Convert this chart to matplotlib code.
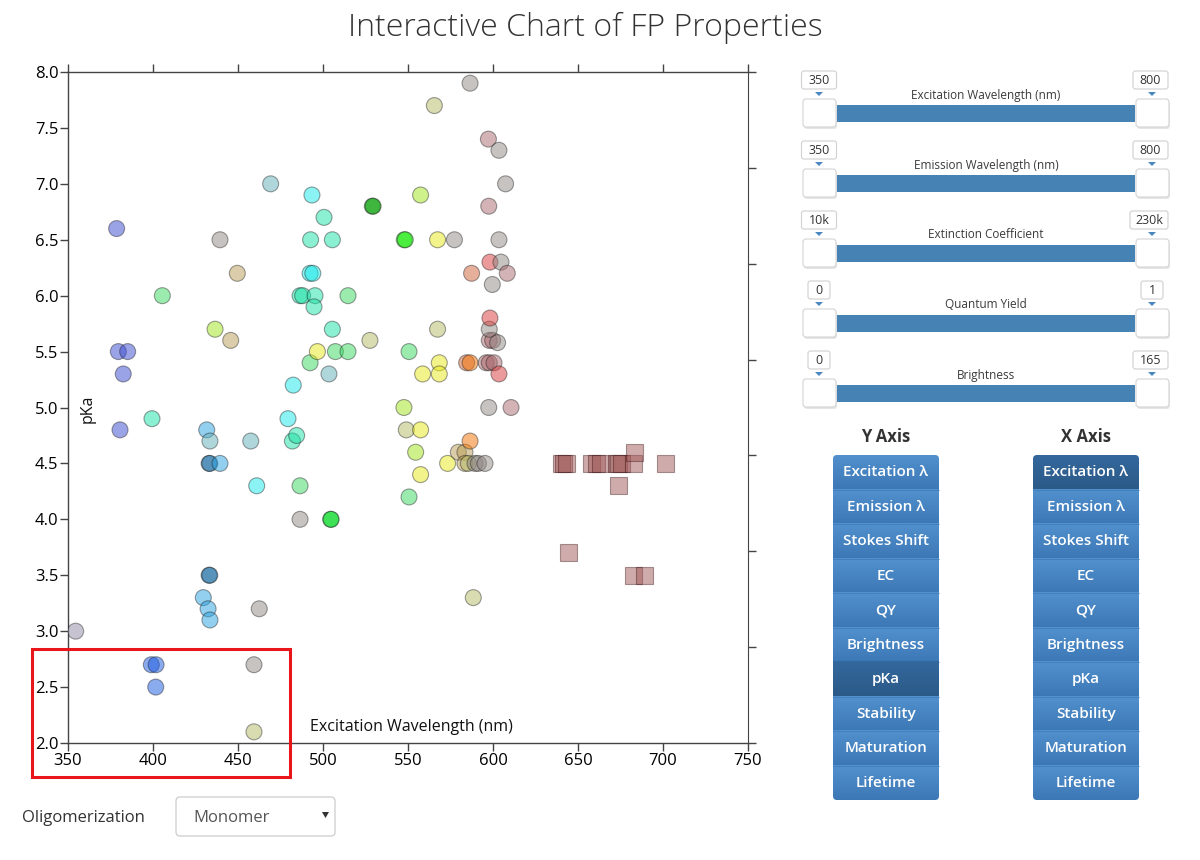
import numpy as np
import matplotlib
matplotlib.use("Agg")
import matplotlib.pyplot as plt
from matplotlib.patches import Rectangle, FancyBboxPatch, Polygon
from matplotlib.colors import to_rgb

plt.rcParams['font.family'] = ['Open Sans', 'DejaVu Sans']

# ---------------- data ----------------
title = "Interactive Chart of FP Properties"
x_label = "Excitation Wavelength (nm)"
y_label = "pKa"

circle_excitation = [
    354.5, 378.6, 379.6, 385.1, 382.5, 380.6, 399.4, 405.5, 399.0, 401.8,
    401.6, 429.6, 432.4, 433.5, 433.0, 433.4, 431.6, 433.5, 433.0, 433.4,
    439.4, 457.5, 461.0, 459.4, 459.4, 462.5, 439.4, 449.6, 436.5, 445.7,
    469.2, 479.4, 482.0, 484.5, 482.5, 486.5, 486.5, 504.5, 504.8, 492.4,
    496.7, 503.5, 507.3, 514.7, 505.5, 527.6, 486.5, 488.0, 495.3, 494.7,
    514.7, 492.4, 494.0, 492.7, 505.5, 493.5, 500.6, 529.0, 529.5, 547.8,
    548.4, 547.6, 549.0, 554.5, 550.6, 550.6, 557.4, 557.4, 557.4, 558.6,
    565.5, 567.4, 567.4, 568.4, 568.4, 573.3, 577.3, 579.6, 583.5, 586.5,
    583.5, 585.5, 589.4, 591.4, 595.3, 584.5, 586.5, 586.5, 587.4, 588.4,
    596.0, 597.8, 600.6, 597.8, 599.8, 602.7, 597.8, 598.2, 603.5, 597.5,
    610.6, 599.6, 598.2, 604.7, 608.4, 603.5, 597.5, 607.4, 597.3, 603.5,
]
circle_pka = [
    3.0, 6.6, 5.5, 5.5, 5.3, 4.8, 4.9, 6.0, 2.7, 2.7,
    2.5, 3.3, 3.2, 3.1, 3.5, 3.5, 4.8, 4.7, 4.5, 4.5,
    4.5, 4.7, 4.3, 2.7, 2.1, 3.2, 6.5, 6.2, 5.7, 5.6,
    7.0, 4.9, 4.7, 4.75, 5.2, 4.3, 4.0, 4.0, 4.0, 5.4,
    5.5, 5.3, 5.5, 5.5, 5.7, 5.6, 6.0, 6.0, 6.0, 5.9,
    6.0, 6.2, 6.2, 6.5, 6.5, 6.9, 6.7, 6.8, 6.8, 6.5,
    6.5, 5.0, 4.8, 4.6, 4.2, 5.5, 4.8, 4.4, 6.9, 5.3,
    7.7, 6.5, 5.7, 5.4, 5.3, 4.5, 6.5, 4.6, 4.6, 4.7,
    4.5, 4.5, 4.5, 4.5, 4.5, 5.4, 5.4, 7.9, 6.2, 3.3,
    5.4, 5.4, 5.4, 5.6, 5.6, 5.58, 5.7, 5.8, 5.3, 5.0,
    5.0, 6.1, 6.3, 6.3, 6.2, 6.5, 6.8, 7.0, 7.4, 7.3,
]
circle_group = [
    'lav', 'bp', 'bp', 'bp', 'bp', 'bp', 'teal', 'green', 'blue', 'blue',
    'blue', 'lblue', 'lblue', 'lblue', 'sblue', 'sblue', 'lblue', 'tgray', 'sblue', 'sblue',
    'lblue', 'tgray', 'cyan', 'gray', 'olive', 'gray', 'gray', 'tan', 'ygreen', 'tan',
    'tgray', 'cyan', 'teal', 'teal', 'cyan', 'green', 'gray', 'lime', 'lime', 'green',
    'yellow', 'tgray', 'green', 'green', 'teal', 'olive', 'teal', 'teal', 'teal', 'teal',
    'green', 'cyan', 'cyan', 'teal', 'teal', 'cyan', 'teal', 'dgreen', 'dgreen', 'bgreen',
    'bgreen', 'ygreen', 'olive', 'ygreen', 'green', 'green', 'yellow', 'yellow', 'ygreen', 'yellow',
    'olive', 'yellow', 'olive', 'yellow', 'yellow', 'yellow', 'gray', 'tan', 'tan', 'orange',
    'tan', 'olive', 'gray', 'gray', 'gray', 'salmon', 'orange', 'gray', 'salmon', 'olive',
    'rose', 'rose', 'rose', 'rose', 'rose', 'gray', 'gray', 'red', 'red', 'gray',
    'rose', 'gray', 'red', 'gray', 'rose', 'gray', 'rose', 'gray', 'rose', 'gray',
]

square_excitation = [640.5, 641.5, 643.0, 658.0, 661.0, 663.0, 672.5, 674.0, 675.5,
                     682.5, 701.6, 683.5, 673.7, 644.5, 682.5, 689.4]
square_pka = [4.5, 4.5, 4.5, 4.5, 4.5, 4.5, 4.5, 4.5, 4.5,
              4.5, 4.5, 4.6, 4.3, 3.7, 3.5, 3.5]

x_ticks = [350, 400, 450, 500, 550, 600, 650, 700, 750]
y_ticks = [2.0, 2.5, 3.0, 3.5, 4.0, 4.5, 5.0, 5.5, 6.0, 6.5, 7.0, 7.5, 8.0]

slider_labels = ["Excitation Wavelength (nm)", "Emission Wavelength (nm)",
                 "Extinction Coefficient", "Quantum Yield", "Brightness"]
slider_min = ["350", "350", "10k", "0", "0"]
slider_max = ["800", "800", "230k", "1", "165"]

axis_buttons = ["Excitation λ", "Emission λ", "Stokes Shift", "EC", "QY",
                "Brightness", "pKa", "Stability", "Maturation", "Lifetime"]
y_selected = "pKa"
x_selected = "Excitation λ"

oligo_label = "Oligomerization"
oligo_value = "Monomer"

# ---------------- style ----------------
visible = {
    'gray': '#c8c4c2', 'lav': '#c8c4d2', 'bp': '#9ca4e8', 'teal': '#8cf0d2',
    'green': '#9cecb0', 'blue': '#8cacf0', 'lblue': '#94d0f0', 'sblue': '#90b8d2',
    'cyan': '#8cf4f4', 'tgray': '#b0d8dc', 'ygreen': '#d0f28c', 'tan': '#dcceaa',
    'olive': '#dadcb2', 'yellow': '#f4f48c', 'orange': '#f8b87a', 'salmon': '#e6b09a',
    'red': '#ec9c9c', 'rose': '#d4b4b6', 'dgreen': '#78d078', 'bgreen': '#88f45a',
    'lime': '#58ec90', 'sq': '#d0acac',
}
ALPHA = 0.5


def base_rgba(key):
    r, g, b = to_rgb(visible[key])
    return tuple(np.clip([(c - (1 - ALPHA)) / ALPHA for c in (r, g, b)], 0, 1)) + (ALPHA,)


W, H = 1200, 860
fig = plt.figure(figsize=(12, 8.6), dpi=100)

L, R, T, B = 68, 748, 72, 743
ax = fig.add_axes([L / W, 1 - B / H, (R - L) / W, (B - T) / H])
ax.set_xlim(350, 750)
ax.set_ylim(2.0, 8.0)

ax.scatter(circle_excitation, circle_pka, s=132, marker='o',
           c=[base_rgba(k) for k in circle_group],
           edgecolors=(0.1, 0.1, 0.1, 0.42), linewidths=0.8, zorder=3)
ax.scatter(square_excitation, square_pka, s=150, marker='s',
           c=[base_rgba('sq')] * len(square_excitation),
           edgecolors=(0.2, 0.05, 0.05, 0.4), linewidths=0.8, zorder=3)

ax.set_xticks(x_ticks)
ax.set_yticks(y_ticks)
ax.set_xticklabels([str(v) for v in x_ticks])
ax.set_yticklabels([f"{v:.1f}" for v in y_ticks])
ax.tick_params(axis='both', direction='out', length=6, width=1, color='#444444',
               labelsize=12, labelcolor='#000000', pad=1)
ax.tick_params(axis='x', top=True, labeltop=False)
for s in ax.spines.values():
    s.set_color('#444444')
    s.set_linewidth(1.0)
ax.spines['right'].set_visible(False)

ax2 = ax.twinx()
ax2.set_ylim(0, 7)
ax2.set_yticks(range(8))
ax2.set_yticklabels([])
ax2.tick_params(axis='y', direction='out', length=6, width=1, color='#444444')
for s in ax2.spines.values():
    s.set_visible(False)
ax2.spines['right'].set_visible(True)
ax2.spines['right'].set_color('#444444')

# ---------------- overlay in pixel coordinates ----------------
ov = fig.add_axes([0, 0, 1, 1], zorder=10)
ov.patch.set_alpha(0)
ov.axis('off')

ov.text(585, 28, title, ha='center', va='center', fontsize=23, fontweight='light',
        color='#333333')
ov.text(310, 727, x_label, ha='left', va='center', fontsize=11.5, color='#111111')
ov.text(88, 409, y_label, ha='center', va='center', rotation=90, fontsize=11.5,
        color='#111111')

# red highlight rectangle
ov.add_patch(Rectangle((32, 649), 258, 128, fill=False, edgecolor='#e8151b',
                       linewidth=2.2))

# sliders
bar_x0, bar_x1 = 837, 1135
for i, lab in enumerate(slider_labels):
    y0 = 105 + 70 * i
    ov.add_patch(Rectangle((bar_x0, y0), bar_x1 - bar_x0, 17, facecolor='#4682b4',
                           edgecolor='none'))
    for hx in (803, 1136):
        ov.add_patch(FancyBboxPatch((hx + 1, y0 - 4), 33, 28,
                                    boxstyle='round,pad=0,rounding_size=3',
                                    facecolor='#e6e6e6', edgecolor='none'))
        ov.add_patch(FancyBboxPatch((hx, y0 - 6), 33, 28,
                                    boxstyle='round,pad=0,rounding_size=3',
                                    facecolor='white', edgecolor='#d4d4d4', linewidth=0.8))
    ov.text(986, y0 - 10, lab, ha='center', va='center', fontsize=8.5, color='#3a3a3a')
    for cx, txt in ((819, slider_min[i]), (1152, slider_max[i])):
        bw = 8 + 9 * len(txt) if len(txt) > 1 else 22
        if len(txt) == 4:
            bw = 38
        bx = cx - bw / 2
        if cx > 1000:
            bx = min(bx, 1168 - bw)
        ov.add_patch(FancyBboxPatch((bx, y0 - 34), bw, 18,
                                    boxstyle='round,pad=0,rounding_size=2.5',
                                    facecolor='white', edgecolor='#d0d0d0', linewidth=0.8))
        ov.text(bx + bw / 2, y0 - 25, txt, ha='center', va='center', fontsize=9,
                color='#333333')
        ov.add_patch(Polygon([[cx - 4, y0 - 13], [cx + 4, y0 - 13], [cx, y0 - 9]],
                             closed=True, facecolor='#4a86c0', edgecolor='none'))

# axis selection buttons
ov.text(886, 437, "Y Axis", ha='center', va='center', fontsize=12,
        fontweight='bold', color='#333333')
ov.text(1086, 437, "X Axis", ha='center', va='center', fontsize=12,
        fontweight='bold', color='#333333')

btn_top, btn_h = 455, 34.5
norm_top, norm_bot = np.array(to_rgb('#5291ce')), np.array(to_rgb('#3c78b5'))
sel_top, sel_bot = np.array(to_rgb('#34689d')), np.array(to_rgb('#2b5a88'))
for col_x, sel in ((833, y_selected), (1033, x_selected)):
    clip = FancyBboxPatch((col_x, btn_top), 106, btn_h * len(axis_buttons),
                          boxstyle='round,pad=0,rounding_size=4',
                          facecolor='none', edgecolor='none')
    ov.add_patch(clip)
    for j, name in enumerate(axis_buttons):
        y0 = btn_top + btn_h * j
        top, bot = (sel_top, sel_bot) if name == sel else (norm_top, norm_bot)
        t = np.linspace(0, 1, 32)[:, None]
        grad = (top[None, :] * (1 - t) + bot[None, :] * t)[:, None, :]
        im = ov.imshow(grad, extent=[col_x, col_x + 106, y0 + btn_h, y0],
                       aspect='auto', interpolation='bilinear', zorder=2)
        im.set_clip_path(clip)
        ov.text(col_x + 53, y0 + btn_h / 2, name, ha='center', va='center',
                fontsize=11, fontweight='semibold', color='white', zorder=4)
        if j > 0:
            ov.plot([col_x, col_x + 106], [y0, y0], color='#2f6aa5', lw=0.6,
                    alpha=0.5, zorder=3)

# oligomerization dropdown
ov.text(22, 818, oligo_label, ha='left', va='center', fontsize=12, color='#333333')
ov.add_patch(FancyBboxPatch((176, 797), 159, 39, boxstyle='round,pad=0,rounding_size=4',
                            facecolor='white', edgecolor='#cccccc', linewidth=0.9))
ov.text(193, 818, oligo_value, ha='left', va='center', fontsize=12, color='#555555')
ov.add_patch(Polygon([[322, 812], [329, 812], [325.5, 818]], closed=True,
                     facecolor='#333333', edgecolor='none'))

ov.set_xlim(0, W)
ov.set_ylim(H, 0)

fig.savefig("out.png", dpi=100)
